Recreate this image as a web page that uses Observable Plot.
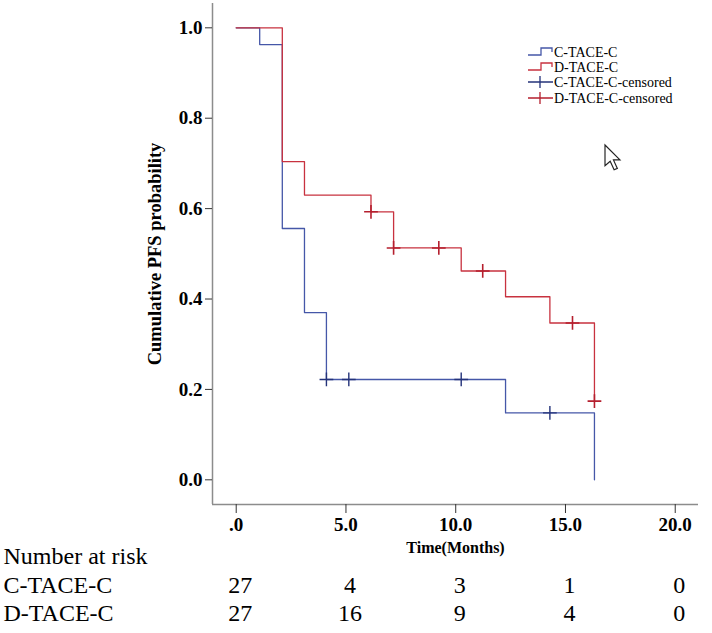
<!DOCTYPE html>
<html><head><meta charset="utf-8">
<script src="https://cdn.jsdelivr.net/npm/d3@7"></script>
<script src="https://cdn.jsdelivr.net/npm/@observablehq/plot@0.6"></script>
<style>
body{margin:0;background:#fff;}
#wrap{position:relative;width:712px;height:633px;overflow:hidden;}
#overlay{position:absolute;left:0;top:0;pointer-events:none;}
</style></head><body><div id="wrap"></div>
<script>
// Kaplan–Meier steps (time in months, cumulative PFS)
const cTime = [0, 1.07, 2.10, 3.11, 4.11, 12.27, 16.32];
const cSurv = [1.0, 0.963, 0.556, 0.370, 0.222, 0.148, 0.0];
const dTime = [0, 2.10, 3.11, 6.14, 7.17, 10.25, 12.27, 14.29, 16.32];
const dSurv = [1.0, 0.704, 0.630, 0.593, 0.513, 0.462, 0.405, 0.347, 0.174];
// censored observations
const cCensT = [4.11, 5.13, 10.25, 14.29];
const cCensS = [0.222, 0.222, 0.222, 0.148];
const dCensT = [6.14, 7.17, 9.23, 11.23, 15.32, 16.32];
const dCensS = [0.593, 0.513, 0.513, 0.462, 0.347, 0.174];
// number at risk
const riskTimes = [0, 5, 10, 15, 20];
const riskC = [27, 4, 3, 1, 0];
const riskD = [27, 16, 9, 4, 0];
const groups = ["C-TACE-C", "D-TACE-C"];
const xTicks = [0, 5, 10, 15, 20];
const yTicks = [0, 0.2, 0.4, 0.6, 0.8, 1.0];
const xDomain = [-1.08, 21.06];
const yDomain = [-0.0546, 1.0538];

const blue = "#4557a8", red = "#c8323f";
const blueC = "#24337a", redC = "#b51f2e";

const cLine = cTime.map((t, i) => ({t, s: cSurv[i]}));
const dLine = dTime.map((t, i) => ({t, s: dSurv[i]}));
const cCens = cCensT.map((t, i) => ({t, s: cCensS[i]}));
const dCens = dCensT.map((t, i) => ({t, s: dCensS[i]}));

const serif = "'Liberation Serif', 'Times New Roman', serif";

const chart = Plot.plot({
  width: 712, height: 633,
  marginLeft: 212, marginRight: 14, marginTop: 3, marginBottom: 129,
  x: {domain: xDomain},
  y: {domain: yDomain},
  style: {fontFamily: serif, background: "white", color: "black"},
  marks: [
    Plot.ruleX([xDomain[0]], {stroke: "#8c8c8c", strokeWidth: 1.5}),
    Plot.ruleY([yDomain[0]], {stroke: "#8c8c8c", strokeWidth: 1.5}),
    Plot.axisY(yTicks, {tickSize: 7, tickPadding: 3, tickFormat: d => d.toFixed(1),
      fontSize: 19, fontWeight: "bold", fontFamily: serif, label: null, stroke: "#333"}),
    Plot.axisX(xTicks, {tickSize: 9, tickPadding: 4, tickFormat: d => d === 0 ? ".0" : d.toFixed(1),
      fontSize: 19, fontWeight: "bold", fontFamily: serif, label: null, stroke: "#333"}),
    Plot.text(["Cumulative PFS probability"], {frameAnchor: "left", dx: -57, rotate: -90,
      textAnchor: "middle", text: d => d, fontSize: 18.5, fontWeight: "bold", fontFamily: serif}),
    Plot.text(["Time(Months)"], {frameAnchor: "bottom", dy: 48, text: d => d,
      fontSize: 16, fontWeight: "bold", fontFamily: serif}),
    Plot.line(cLine, {x: "t", y: "s", curve: "step-after", stroke: blue, strokeWidth: 1.3}),
    Plot.line(dLine, {x: "t", y: "s", curve: "step-after", stroke: red, strokeWidth: 1.3}),
    Plot.dot(cCens, {x: "t", y: "s", symbol: "plus", r: 4.5, stroke: blueC, strokeWidth: 1.4}),
    Plot.dot(dCens, {x: "t", y: "s", symbol: "plus", r: 4.5, stroke: redC, strokeWidth: 1.6}),
    Plot.text(["Number at risk"], {frameAnchor: "bottom-left", dx: -209, dy: 59, text: d => d,
      textAnchor: "start", fontSize: 24, fontFamily: serif}),
    Plot.text([groups[0]], {frameAnchor: "bottom-left", dx: -209, dy: 88, text: d => d,
      textAnchor: "start", fontSize: 24, fontFamily: serif}),
    Plot.text([groups[1]], {frameAnchor: "bottom-left", dx: -209, dy: 116, text: d => d,
      textAnchor: "start", fontSize: 24, fontFamily: serif}),
    Plot.text(riskTimes, {x: d => d, text: (d, i) => String(riskC[i]), frameAnchor: "bottom",
      dy: 88, dx: 4, fontSize: 24, fontFamily: serif}),
    Plot.text(riskTimes, {x: d => d, text: (d, i) => String(riskD[i]), frameAnchor: "bottom",
      dy: 116, dx: 4, fontSize: 24, fontFamily: serif})
  ]
});
const wrap = document.getElementById("wrap");
wrap.appendChild(chart);

// legend + cursor overlay
const ns = "http://www.w3.org/2000/svg";
const ov = document.createElementNS(ns, "svg");
ov.setAttribute("id", "overlay");
ov.setAttribute("width", 712);
ov.setAttribute("height", 633);
const legend = [
  {label: groups[0], color: blue, kind: "step"},
  {label: groups[1], color: red, kind: "step"},
  {label: groups[0] + "-censored", color: blueC, kind: "cens"},
  {label: groups[1] + "-censored", color: redC, kind: "cens"}
];
const ly = [52, 67, 82, 98];
legend.forEach((e, i) => {
  const y = ly[i];
  const p = document.createElementNS(ns, "path");
  if (e.kind === "step") {
    p.setAttribute("d", `M528,${y+3}H541V${y-4}H552V${y}`);
  } else {
    p.setAttribute("d", `M528,${y}H553M540,${y-6}V${y+6}`);
  }
  p.setAttribute("fill", "none");
  p.setAttribute("stroke", e.color);
  p.setAttribute("stroke-width", 1.3);
  ov.appendChild(p);
  const t = document.createElementNS(ns, "text");
  t.setAttribute("x", 554);
  t.setAttribute("y", y);
  t.setAttribute("dy", "0.35em");
  t.setAttribute("font-family", serif);
  t.setAttribute("font-size", 14);
  t.textContent = e.label;
  ov.appendChild(t);
});
const cur = document.createElementNS(ns, "path");
cur.setAttribute("d", "M0,0L0,16L4,12.5L7,19L9.5,18L6.5,11.5L11.5,11.5Z");
cur.setAttribute("transform", "translate(605,145) scale(1.3)");
cur.setAttribute("fill", "white");
cur.setAttribute("stroke", "#222");
cur.setAttribute("stroke-width", 0.9);
ov.appendChild(cur);
wrap.appendChild(ov);
</script>
</body></html>
